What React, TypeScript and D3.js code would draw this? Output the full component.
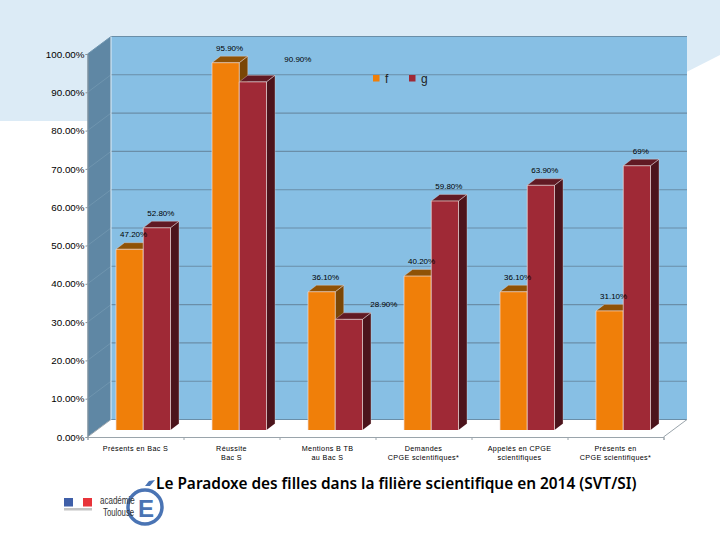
import React, { useEffect, useRef } from 'react';
import * as d3 from 'd3';

const categories = [
	['Présents en Bac S'],
	['Réussite', 'Bac S'],
	['Mentions B TB', 'au Bac S'],
	['Demandes', 'CPGE scientifiques*'],
	['Appelés en CPGE', 'scientifiques'],
	['Présents en', 'CPGE scientifiques*'],
];
const valuesF = [47.2, 95.9, 36.1, 40.2, 36.1, 31.1];
const valuesG = [52.8, 90.9, 28.9, 59.8, 63.9, 69];
const seriesNames = ['f', 'g'];
const yTicks = [0, 10, 20, 30, 40, 50, 60, 70, 80, 90, 100];
const title = 'Le Paradoxe des filles dans la filière scientifique en 2014 (SVT/SI)';

const width = 720;
const height = 540;
const wallDx = 23.5;
const wallDy = -17.5;
const barDx = 8.5;
const barDy = -6.5;
const sans = '"Liberation Sans", Arial, sans-serif';

const faces = {
	f: { front: '#f07f09', top: '#8f5206', side: '#7a4605' },
	g: { front: '#9f2936', top: '#611a24', side: '#4c141c' },
};

const pct = (v: number) => (Number.isInteger(v) ? v + '%' : v.toFixed(2) + '%');

export default function App() {
	const ref = useRef<SVGSVGElement>(null);

	useEffect(() => {
		const svg = d3.select(ref.current);
		svg.selectAll('*').remove();

		const x = d3.scaleBand().domain(categories.map((d, i) => String(i))).range([87.5, 663.5]);
		const y = d3.scaleLinear().domain([0, 100]).range([437, 54]);
		// bars stand a little in front of the wall, so they have their own baseline
		const yBar = d3.scaleLinear().domain([0, 100]).range([430, 47]);
		const xSeries = d3.scaleBand().domain(seriesNames).range([28.5, 83]);

		const left = x.range()[0];
		const right = x.range()[1];
		const poly = (pts: number[][]) => pts.map((p) => p.join(',')).join(' ');

		// pale banner behind the chart
		svg.append('polygon')
			.attr('points', poly([[0, 0], [width, 0], [width, 55], [590, 121], [0, 121]]))
			.attr('fill', '#dcebf6');

		// walls and floor
		svg.append('polygon')
			.attr('points', poly([[left + wallDx, y(100) + wallDy], [right + wallDx, y(100) + wallDy], [right + wallDx, y(0) + wallDy], [left + wallDx, y(0) + wallDy]]))
			.attr('fill', '#87bfe4');
		svg.append('polygon')
			.attr('points', poly([[left, y(100)], [left + wallDx, y(100) + wallDy], [left + wallDx, y(0) + wallDy], [left, y(0)]]))
			.attr('fill', '#5f87a4');
		svg.append('polygon')
			.attr('points', poly([[left, y(0)], [left + wallDx, y(0) + wallDy], [right + wallDx, y(0) + wallDy], [right, y(0)]]))
			.attr('fill', '#ffffff');

		// gridlines, running along the left wall then the back wall
		const grid = svg.append('g');
		yTicks.forEach((t) => {
			grid.append('line')
				.attr('x1', left).attr('y1', y(t))
				.attr('x2', left + wallDx).attr('y2', y(t) + wallDy)
				.attr('stroke', t === 0 ? '#9aa4ab' : '#6f95af');
			grid.append('line')
				.attr('x1', left + wallDx).attr('y1', y(t) + wallDy)
				.attr('x2', right + wallDx).attr('y2', y(t) + wallDy)
				.attr('stroke', '#6a8ea8')
				.attr('stroke-width', 1.1);
		});
		svg.append('line')
			.attr('x1', left + wallDx).attr('y1', y(100) + wallDy)
			.attr('x2', left + wallDx).attr('y2', y(0) + wallDy)
			.attr('stroke', '#e4eef5');
		svg.append('line')
			.attr('x1', right).attr('y1', y(0))
			.attr('x2', right + wallDx).attr('y2', y(0) + wallDy)
			.attr('stroke', '#9aa4ab');

		// axes
		const yAxis = svg.append('g')
			.attr('transform', 'translate(' + left + ',0)')
			.call(d3.axisLeft(y).tickValues(yTicks).tickFormat((d) => (d as number).toFixed(2) + '%').tickSize(2).tickPadding(1));
		yAxis.select('.domain').attr('stroke', '#8a949b');
		yAxis.selectAll('.tick line').attr('stroke', '#8a949b');
		yAxis.selectAll('text').attr('font-family', sans).attr('font-size', 9.8).attr('fill', '#000');

		const xAxis = svg.append('g')
			.attr('transform', 'translate(0,' + y(0) + ')')
			.call(d3.axisBottom(d3.scaleLinear().domain([0, 6]).range([left, right])).ticks(6).tickFormat(() => '').tickSize(3).tickSizeOuter(3));
		xAxis.select('.domain').attr('stroke', '#9aa4ab');
		xAxis.selectAll('.tick line').attr('stroke', '#9aa4ab');

		const catLabels = svg.append('g').attr('font-family', sans).attr('font-size', 7.2).attr('letter-spacing', 0.35).attr('fill', '#000').attr('text-anchor', 'middle');
		categories.forEach((lines, i) => {
			lines.forEach((line, j) => {
				catLabels.append('text')
					.attr('x', (x(String(i)) as number) + x.bandwidth() / 2)
					.attr('y', 450.5 + j * 9.2)
					.text(line);
			});
		});

		// bars
		[valuesF, valuesG].forEach((values, s) => {
			const name = seriesNames[s];
			const c = faces[name as 'f' | 'g'];
			const g = svg.append('g');
			values.forEach((v, i) => {
				const x0 = (x(String(i)) as number) + (xSeries(name) as number);
				const x1 = x0 + xSeries.bandwidth();
				const top = yBar(v);
				const base = yBar(0);
				g.append('polygon')
					.attr('points', poly([[x1, top], [x1 + barDx, top + barDy], [x1 + barDx, base + barDy], [x1, base]]))
					.attr('fill', c.side);
				g.append('polygon')
					.attr('points', poly([[x0, top], [x0 + barDx, top + barDy], [x1 + barDx, top + barDy], [x1, top]]))
					.attr('fill', c.top);
				g.append('rect')
					.attr('x', x0).attr('y', top)
					.attr('width', x1 - x0).attr('height', base - top)
					.attr('fill', c.front);
				g.append('polyline')
					.attr('points', poly([[x0, base], [x0, top], [x1, top], [x1, base]]))
					.attr('fill', 'none')
					.attr('stroke', '#f0dcd8')
					.attr('stroke-width', 0.7);
				g.append('polyline')
					.attr('points', poly([[x0, top], [x0 + barDx, top + barDy], [x1 + barDx, top + barDy], [x1, top], [x1 + barDx, top + barDy], [x1 + barDx, base + barDy]]))
					.attr('fill', 'none')
					.attr('stroke', '#f0dcd8')
					.attr('stroke-width', 0.35);
			});
		});

		// value labels: two of them were dragged away from their bar in the original
		const nudge: Record<string, number[]> = { 'g1': [41, -8], 'g2': [31, 0] };
		const valueLabels = svg.append('g').attr('font-family', sans).attr('font-size', 8).attr('fill', '#000').attr('text-anchor', 'middle');
		[valuesF, valuesG].forEach((values, s) => {
			const name = seriesNames[s];
			values.forEach((v, i) => {
				const off = nudge[name + i] || [0, 0];
				valueLabels.append('text')
					.attr('x', (x(String(i)) as number) + (xSeries(name) as number) + xSeries.bandwidth() / 2 + 4 + off[0])
					.attr('y', yBar(v) - 12 + off[1])
					.text(pct(v));
			});
		});

		// legend
		const legendX = [373, 409];
		seriesNames.forEach((name, s) => {
			const c = faces[name as 'f' | 'g'];
			svg.append('rect')
				.attr('x', legendX[s]).attr('y', 75)
				.attr('width', 6.5).attr('height', 6.5)
				.attr('fill', c.front);
			svg.append('text')
				.attr('x', legendX[s] + 12).attr('y', 83)
				.attr('font-family', sans).attr('font-size', 12).attr('fill', '#222')
				.text(name);
		});

		// logos
		const logo = svg.append('g');
		logo.append('rect').attr('x', 64).attr('y', 498).attr('width', 9).attr('height', 8.5).attr('fill', '#3f5fa8');
		logo.append('rect').attr('x', 73).attr('y', 498).attr('width', 10).attr('height', 8.5).attr('fill', '#ffffff');
		logo.append('rect').attr('x', 83).attr('y', 498).attr('width', 9).attr('height', 8.5).attr('fill', '#e8343a');
		logo.append('rect').attr('x', 64).attr('y', 508).attr('width', 28).attr('height', 2.5).attr('fill', '#c4c4c4');
		logo.append('circle').attr('cx', 145).attr('cy', 507).attr('r', 17).attr('fill', '#ffffff').attr('stroke', '#4a74b4').attr('stroke-width', 3.5);
		logo.append('text').attr('x', 146).attr('y', 516.5).attr('text-anchor', 'middle').attr('font-family', sans).attr('font-weight', 'bold').attr('font-size', 24).attr('fill', '#4a74b4').text('E');
		logo.append('polygon').attr('points', poly([[145, 486], [149, 481], [155, 480], [150, 486]])).attr('fill', '#4a74b4');
		logo.append('text').attr('transform', 'translate(100,504) scale(0.8,1)').attr('font-family', sans).attr('font-size', 10).attr('fill', '#333').text('académie');
		logo.append('text').attr('transform', 'translate(103,516) scale(0.78,1)').attr('font-family', sans).attr('font-size', 10).attr('fill', '#333').text('Toulouse');

		svg.append('text')
			.attr('x', 156).attr('y', 489)
			.attr('font-family', '"Noto Sans", sans-serif')
			.attr('font-weight', 600)
			.attr('font-size', 15.4)
			.attr('fill', '#000')
			.text(title);
	}, []);

	return (
		<svg
			ref={ref}
			width={width}
			height={height}
			style={{ position: 'absolute', left: 0, top: 0, background: '#fff' }}
		/>
	);
}
